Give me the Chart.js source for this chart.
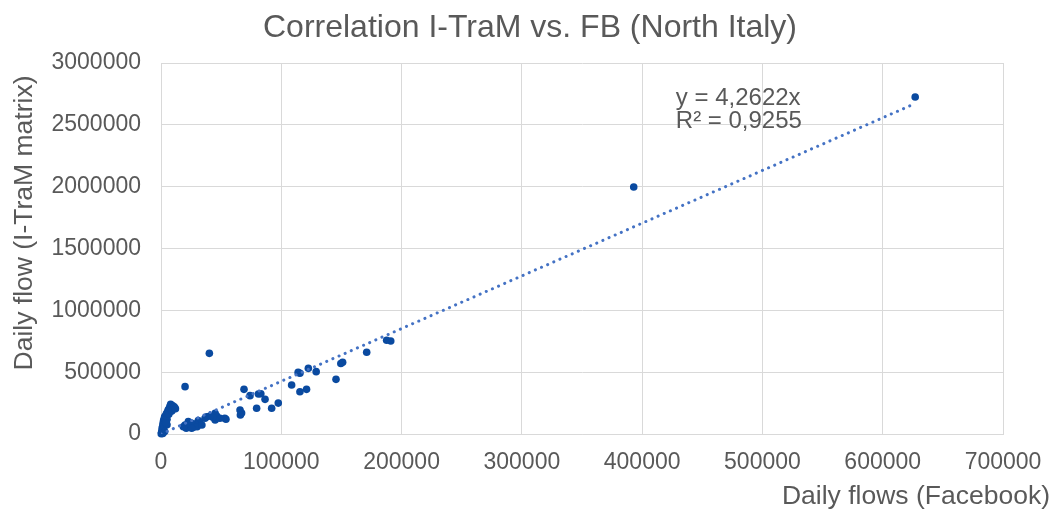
<!DOCTYPE html>
<html>
<head>
<meta charset="utf-8">
<script src="https://cdn.jsdelivr.net/npm/chart.js@4.4.1/dist/chart.umd.min.js"></script>
<style>
  html, body { margin: 0; padding: 0; background: #fff; }
  #wrap { width: 1054px; height: 514px; position: relative; }
</style>
</head>
<body>
<div id="wrap"><canvas id="chart"></canvas></div>
<script>
// Daily flows per OD pair: Facebook (x) vs I-TraM matrix (y)
const facebookFlows = [
  627000, 393000, 191000, 187600, 171000, 151000, 149500, 145500, 129000, 122500,
  115500, 114000, 121000, 115500, 108600, 97500, 92000, 86500, 83000, 81000,
  74000, 69000, 79500, 65700, 67000, 66000, 54000, 53000, 49000, 46300,
  45000, 45000, 43000, 40700, 38000, 36600, 32400, 31000, 28300, 27000,
  25500, 22700, 21000, 20000, 18600, 40200, 20000, 30000, 34000, 25500,
  200, 500, 800, 1000, 1300, 1500, 1800, 2000, 2200, 2500,
  2800, 3000, 3500, 4000, 4500, 5000, 5000, 5500, 6000, 6500,
  7000, 7500, 8000, 8500, 9000, 9500, 10000, 11000, 12000, 3000,
  1500, 4000
];
const itramFlows = [
  2725000, 1997000, 752000, 758000, 661000, 580000, 570000, 442000, 504000, 531000,
  491000, 498000, 361000, 342000, 396000, 250000, 208000, 280000, 326000, 323000,
  310000, 361000, 208000, 194000, 170000, 154000, 119000, 127000, 127000, 146000,
  167000, 113000, 135000, 146000, 140000, 127000, 91000, 108000, 81000, 54000,
  86000, 100000, 46000, 73000, 59000, 652000, 383000, 59000, 73000, 46000,
  3000, 12000, 30000, 50000, 20000, 70000, 90000, 40000, 110000, 60000,
  125000, 140000, 100000, 150000, 165000, 120000, 75000, 180000, 195000, 160000,
  210000, 225000, 240000, 200000, 185000, 230000, 215000, 220000, 205000, 20000,
  5000, 90000
];

// linear trendline through origin, y = 4,2622x
const trendX = [0, 627000];
const trendY = [0, 2672400];
const equationLines = ['y = 4,2622x', 'R² = 0,9255'];

const xTicks = [0, 100000, 200000, 300000, 400000, 500000, 600000, 700000];
const yTicks = [0, 500000, 1000000, 1500000, 2000000, 2500000, 3000000];

const chartTitle = 'Correlation I-TraM vs. FB (North Italy)';
const xTitle = 'Daily flows (Facebook)';
const yTitle = 'Daily flow (I-TraM matrix)';

const textGrey = '#595959';
const gridGrey = '#d9d9d9';
const fontFamily = '"Liberation Sans", Arial, sans-serif';

Chart.defaults.font.family = fontFamily;
Chart.defaults.color = textGrey;

// chart title, axis titles and the trendline label
const extraText = {
  id: 'extraText',
  afterDraw(chart) {
    const { ctx, scales: { x, y } } = chart;
    ctx.save();
    ctx.fillStyle = textGrey;
    ctx.textBaseline = 'middle';
    ctx.textAlign = 'center';
    ctx.font = '32px ' + fontFamily;
    ctx.fillText(chartTitle, 530, 28);

    ctx.font = '26.5px ' + fontFamily;
    ctx.textAlign = 'right';
    ctx.fillText(xTitle, chart.width - 4, 497);
    ctx.translate(25, 223);
    ctx.rotate(-Math.PI / 2);
    ctx.textAlign = 'center';
    ctx.fillText(yTitle, 0, 0);
    ctx.restore();

    ctx.save();
    ctx.fillStyle = textGrey;
    ctx.font = '24px ' + fontFamily;
    ctx.textAlign = 'left';
    ctx.textBaseline = 'middle';
    const ex = x.getPixelForValue(428000);
    const ey = y.getPixelForValue(2710000);
    equationLines.forEach((line, i) => {
      ctx.fillText(line, ex, ey + i * 23);
    });
    ctx.restore();
  }
};

const points = facebookFlows.map((v, i) => ({ x: v, y: itramFlows[i] }));
const trend = trendX.map((v, i) => ({ x: v, y: trendY[i] }));

new Chart(document.getElementById('chart'), {
  type: 'scatter',
  data: {
    datasets: [{
      type: 'line',
      label: 'Linear trend',
      data: trend,
      showLine: true,
      borderColor: '#4472c4',
      borderWidth: 3,
      borderDash: [0.1, 6.6],
      borderCapStyle: 'round',
      pointRadius: 0,
      fill: false
    }, {
      label: 'Daily flows',
      data: points,
      pointRadius: 3.8,
      pointBackgroundColor: '#0a4aa0',
      pointBorderWidth: 0,
      clip: false
    }]
  },
  options: {
    animation: false,
    responsive: true,
    maintainAspectRatio: false,
    layout: {
      padding: { left: 0, right: 51, top: 63, bottom: 0 }
    },
    plugins: {
      legend: { display: false },
      tooltip: { enabled: false },
      title: { display: false }
    },
    scales: {
      x: {
        type: 'linear',
        min: xTicks[0],
        max: xTicks[xTicks.length - 1],
        afterBuildTicks(scale) {
          scale.ticks = xTicks.map(v => ({ value: v }));
        },
        ticks: {
          color: textGrey,
          font: { size: 23 },
          padding: 15,
          maxRotation: 0,
          callback: v => String(v)
        },
        grid: { color: gridGrey, drawTicks: false },
        border: { color: gridGrey },
        afterFit(scale) {
          scale.height = 80;
          scale.paddingLeft = 0;
          scale.paddingRight = 0;
        }
      },
      y: {
        type: 'linear',
        min: yTicks[0],
        max: yTicks[yTicks.length - 1],
        afterBuildTicks(scale) {
          scale.ticks = yTicks.map(v => ({ value: v }));
        },
        ticks: {
          color: textGrey,
          font: { size: 23 },
          padding: 20,
          callback: v => String(v)
        },
        grid: { color: gridGrey, drawTicks: false },
        border: { color: gridGrey },
        afterFit(scale) {
          scale.width = 161;
          scale.paddingTop = 0;
          scale.paddingBottom = 0;
        }
      }
    }
  },
  plugins: [extraText]
});
</script>
</body>
</html>
